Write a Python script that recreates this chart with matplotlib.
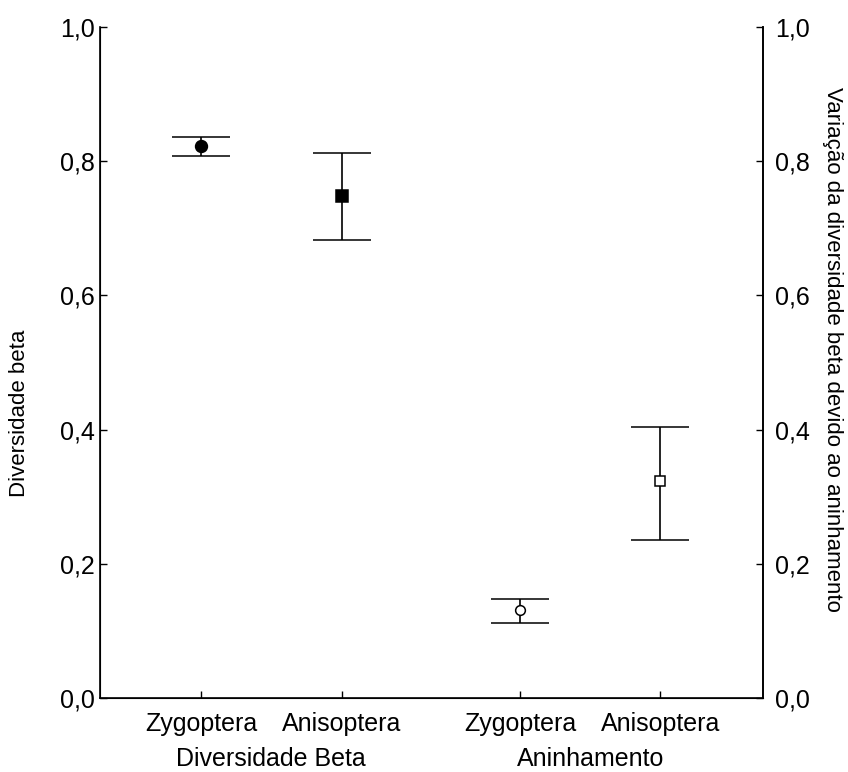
import matplotlib.pyplot as plt

plt.rcParams["font.family"] = ["Liberation Sans", "DejaVu Sans"]

taxa = ["Zygoptera", "Anisoptera", "Zygoptera", "Anisoptera"]
groups = ["Diversidade Beta", "Aninhamento"]
means = [0.823, 0.748, 0.131, 0.323]
upper = [0.836, 0.812, 0.148, 0.404]
lower = [0.808, 0.683, 0.112, 0.235]
yticks = [0.0, 0.2, 0.4, 0.6, 0.8, 1.0]
ytick_labels = ["0,0", "0,2", "0,4", "0,6", "0,8", "1,0"]

xpos = [1, 2, 3.27, 4.27]
markers = ["o", "s", "o", "s"]
faces = ["black", "black", "white", "white"]
sizes = [8.5, 8.5, 7, 7.5]

fig = plt.figure(figsize=(8.48, 7.72), dpi=100)
ax = fig.add_axes([100 / 848, 74 / 772, 663 / 848, 671 / 772])

for x, m, lo, hi, mk, fc, ms in zip(xpos, means, lower, upper, markers, faces, sizes):
    ax.errorbar(
        [x], [m],
        yerr=[[m - lo], [hi - m]],
        fmt=mk, color="black", mfc=fc, mec="black", ms=ms, mew=1.1,
        ecolor="black", elinewidth=1.2, capsize=21, capthick=1.2, zorder=3,
    )

ax.set_xlim(0.28, 5.0)
ax.set_ylim(0, 1.0)
ax.set_xticks(xpos)
ax.set_xticklabels(taxa, fontsize=18)
ax.set_yticks(yticks)
ax.set_yticklabels(ytick_labels, fontsize=18)
ax.tick_params(axis="y", direction="in", length=5, width=1, pad=4)
ax.tick_params(axis="x", direction="in", length=5, width=1, pad=10)
ax.spines["top"].set_visible(False)
for s in ["left", "right", "bottom"]:
    ax.spines[s].set_linewidth(1.2)
ax.set_ylabel("Diversidade beta", fontsize=16, va="center")
ax.yaxis.set_label_coords(-0.121, 0.425)

ax2 = ax.twinx()
ax2.set_ylim(0, 1.0)
ax2.set_yticks(yticks)
ax2.set_yticklabels(ytick_labels, fontsize=18)
ax2.tick_params(axis="y", direction="in", length=5, width=1, pad=9)
ax2.spines["top"].set_visible(False)
ax2.spines["right"].set_linewidth(1.2)
ax2.set_ylabel("Variação da diversidade beta devido ao aninhamento",
               fontsize=16, rotation=270, va="center")
ax2.yaxis.set_label_coords(1.105, 0.52)

for g, xc in zip(groups, [(xpos[0] + xpos[1]) / 2, (xpos[2] + xpos[3]) / 2]):
    ax.text(xc, -0.091, g, transform=ax.get_xaxis_transform(),
            ha="center", va="center", fontsize=18)

fig.savefig("out.png", dpi=100)
